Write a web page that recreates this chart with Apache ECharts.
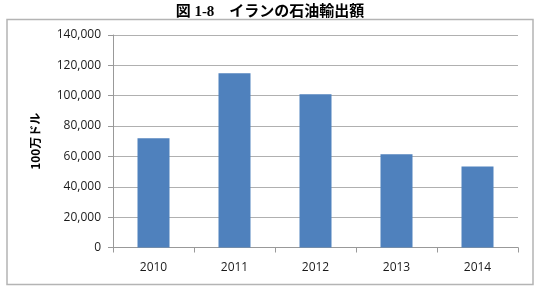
<!DOCTYPE html>
<html>
<head>
<meta charset="utf-8">
<script src="https://cdn.jsdelivr.net/npm/echarts@6/dist/echarts.min.js"></script>
<style>html,body{margin:0;padding:0;background:#fff}#c{width:540px;height:291px}</style>
</head>
<body>
<div id="c"></div>
<script>
var categories = ['2010', '2011', '2012', '2013', '2014'];
var exportValues = [72000, 114750, 101000, 61500, 53400];
var yTicks = [0, 20000, 40000, 60000, 80000, 100000, 120000, 140000];
var titleText = '図 1-8　イランの石油輸出額';
var yAxisName = '100万ドル';

var chart = echarts.init(document.getElementById('c'), null, {renderer: 'canvas'});
chart.setOption({
  animation: false,
  backgroundColor: '#ffffff',
  title: {
    text: titleText,
    left: 'center',
    top: 0,
    textStyle: {fontFamily: '"Liberation Serif", "Noto Sans CJK JP", serif', fontWeight: 'bold', fontSize: 15, color: '#000'}
  },
  graphic: [{
    type: 'rect',
    shape: {x: 7, y: 19.5, width: 526, height: 265},
    style: {fill: 'none', stroke: '#b4b4b4', lineWidth: 1.5},
    silent: true
  }],
  grid: {left: 113, right: 22, top: 35, bottom: 43.5, containLabel: false},
  xAxis: {
    type: 'category',
    data: categories,
    axisLine: {lineStyle: {color: '#999', width: 1}},
    axisTick: {show: true, alignWithLabel: false, length: 5, lineStyle: {color: '#999'}},
    axisLabel: {fontFamily: '"Open Sans", sans-serif', fontSize: 12, color: '#1a1a1a', margin: 14}
  },
  yAxis: {
    type: 'value',
    min: yTicks[0],
    max: yTicks[yTicks.length - 1],
    interval: yTicks[1] - yTicks[0],
    name: yAxisName,
    nameLocation: 'middle',
    nameRotate: 90,
    nameGap: 72,
    nameTextStyle: {fontFamily: '"Noto Sans CJK JP", sans-serif', fontWeight: 'bold', fontSize: 12, color: '#000'},
    axisLine: {show: true, lineStyle: {color: '#999', width: 1}},
    axisTick: {show: true, inside: false, length: 5, lineStyle: {color: '#999'}},
    splitLine: {show: true, lineStyle: {color: '#b0b0b0', width: 1.2}},
    axisLabel: {
      fontFamily: '"Open Sans", sans-serif', fontSize: 12, color: '#1a1a1a', margin: 12,
      formatter: function (v) { return v.toLocaleString('en-US'); }
    }
  },
  series: [{
    type: 'bar',
    data: exportValues,
    barWidth: 32,
    itemStyle: {color: '#4f81bd'}
  }]
});
</script>
</body>
</html>
